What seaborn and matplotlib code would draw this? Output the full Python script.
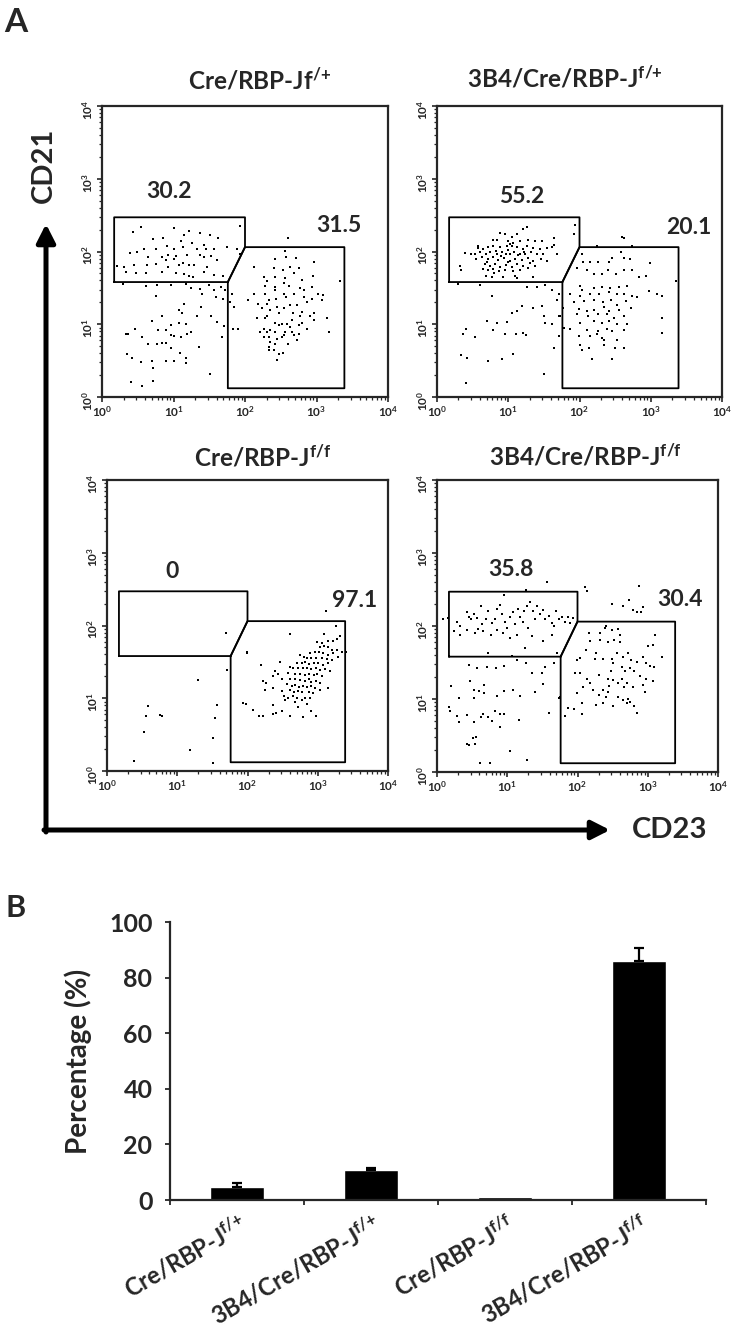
import numpy as np
import pandas as pd
import matplotlib
matplotlib.use("Agg")
import matplotlib.pyplot as plt
import matplotlib.transforms as mtransforms
from matplotlib.ticker import FixedLocator, FixedFormatter, LogLocator, NullFormatter
import seaborn as sns

# ---------------- data ----------------
panel_titles = ["Cre/RBP-Jf$^{/{+}}$", "3B4/Cre/RBP-J$^{f/{+}}$",
                "Cre/RBP-J$^{f/f}$", "3B4/Cre/RBP-J$^{f/f}$"]
gate_left_pct = ["30.2", "55.2", "0", "35.8"]
gate_right_pct = ["31.5", "20.1", "97.1", "30.4"]

# gate outlines in log10 units (CD23, CD21)
gate_left_cd23 = [0.17, 0.17, 2.0, 2.0, 1.76, 0.17]
gate_left_cd21 = [1.58, 2.47, 2.47, 2.06, 1.58, 1.58]
gate_right_cd23 = [1.76, 2.0, 3.39, 3.39, 1.76, 1.76]
gate_right_cd21 = [1.58, 2.06, 2.06, 0.12, 0.12, 1.58]

# events, log10 (CD23, CD21)
tl_events = [
    (0.44, 2.27), (0.55, 2.33), (1.00, 2.32), (1.21, 2.28), (1.37, 2.26), (1.51, 2.22), (1.62, 2.19),
    (1.93, 2.35), (0.71, 2.17), (0.86, 2.19), (1.14, 2.22), (1.10, 2.15), (1.26, 2.11), (1.43, 2.09),
    (0.59, 2.04), (0.75, 2.04), (0.91, 2.07), (1.01, 2.03), (1.13, 2.06), (1.33, 2.04), (1.45, 2.03),
    (1.56, 2.04), (1.75, 2.06), (0.39, 1.98), (0.49, 1.99), (0.64, 1.93), (0.84, 1.93), (0.93, 1.95),
    (1.03, 1.94), (1.19, 1.95), (1.37, 1.95), (1.42, 1.93), (1.52, 1.94), (1.89, 2.03), (0.21, 1.80),
    (0.31, 1.79), (0.45, 1.81), (0.63, 1.81), (0.76, 1.83), (0.90, 1.88), (1.00, 1.90), (1.13, 1.84),
    (1.21, 1.81), (1.28, 1.81), (1.47, 1.79), (1.61, 1.88), (1.93, 1.97), (0.34, 1.72), (0.47, 1.70),
    (0.62, 1.70), (0.84, 1.72), (1.03, 1.70), (1.14, 1.69), (1.21, 1.66), (1.27, 1.65), (1.43, 1.72),
    (1.56, 1.68), (1.69, 1.67), (0.93, 1.79), (1.07, 1.81),
    (0.30, 1.55), (0.61, 1.52), (0.77, 1.54), (0.97, 1.54), (1.17, 1.56), (1.24, 1.50), (1.37, 1.49),
    (1.49, 1.54), (1.56, 1.47), (1.66, 1.51), (1.72, 1.47), (1.40, 1.42), (1.59, 1.38), (1.69, 1.35),
    (1.82, 1.42), (0.75, 1.39), (1.38, 1.24), (1.14, 1.28), (1.07, 1.19), (1.12, 1.15), (1.33, 1.12),
    (0.70, 1.05), (0.84, 1.11), (0.96, 0.99), (1.07, 1.02), (1.17, 1.00), (1.52, 1.11), (1.61, 1.03),
    (1.71, 0.97), (0.36, 0.87), (0.46, 0.94), (0.78, 0.92), (0.90, 0.92), (0.96, 0.85), (1.00, 0.84),
    (1.10, 0.83), (1.19, 0.87), (1.24, 0.89), (1.35, 0.69), (0.56, 0.82), (0.77, 0.73), (0.84, 0.74),
    (0.90, 0.74), (0.64, 0.73), (0.97, 0.67), (1.09, 0.60), (0.35, 0.59), (0.42, 0.53), (0.54, 0.48),
    (0.70, 0.50), (0.89, 0.50), (1.01, 0.50), (1.17, 0.53), (1.18, 0.47), (0.71, 0.40), (1.51, 0.32),
    (0.41, 0.20), (0.56, 0.15), (0.71, 0.22), (0.33, 0.87), (1.68, 0.83),
    (2.42, 1.90), (2.58, 1.93), (2.72, 1.91), (2.56, 2.01), (2.96, 1.85), (2.12, 1.79), (2.41, 1.78),
    (2.53, 1.75), (2.63, 1.79), (2.76, 1.77), (2.68, 1.70), (2.26, 1.65), (2.42, 1.65), (2.56, 1.64),
    (2.95, 1.66), (2.31, 1.59), (2.54, 1.57), (2.80, 1.61), (2.28, 1.52), (2.42, 1.51), (2.62, 1.52),
    (2.77, 1.50), (2.94, 1.51), (3.33, 1.59), (2.12, 1.42), (2.28, 1.42), (2.42, 1.47), (2.54, 1.42),
    (2.68, 1.42), (2.82, 1.47), (3.02, 1.42), (3.09, 1.40), (2.04, 1.33), (2.34, 1.33), (2.44, 1.35),
    (2.58, 1.38), (2.82, 1.38), (2.94, 1.35), (3.08, 1.33), (2.18, 1.28), (2.31, 1.28), (2.45, 1.24),
    (2.63, 1.26), (2.73, 1.26), (2.87, 1.31), (2.24, 1.22), (2.35, 1.19), (2.54, 1.22), (2.80, 1.17),
    (2.91, 1.12), (2.31, 1.12), (2.48, 1.15), (2.67, 1.15), (2.77, 1.11), (2.96, 1.15), (2.17, 1.08),
    (2.28, 1.08), (2.42, 1.02), (2.52, 1.00), (2.66, 1.06), (2.80, 1.02), (2.96, 1.06), (3.15, 1.08),
    (2.26, 0.94), (2.35, 0.92), (2.47, 0.99), (2.59, 1.01), (2.63, 0.96), (2.75, 0.99), (2.87, 0.94),
    (2.21, 0.89), (2.31, 0.89), (2.42, 0.89), (2.56, 0.89), (2.66, 0.89), (2.76, 0.87), (3.17, 0.89),
    (2.26, 0.83), (2.34, 0.82), (2.45, 0.80), (2.54, 0.85), (2.68, 0.85), (2.35, 0.76), (2.42, 0.73),
    (2.52, 0.83), (2.60, 0.73), (2.73, 0.78), (2.33, 0.69), (2.34, 0.64), (2.40, 0.65), (2.48, 0.59),
    (2.53, 0.60), (2.45, 0.51), (1.83, 0.94), (1.90, 0.94), (1.84, 1.24), (1.79, 1.31), (2.60, 2.19),
]

tr_events = [
    (1.26, 2.34), (1.21, 2.31), (1.12, 2.24), (0.88, 2.26), (0.95, 2.24), (1.05, 2.20), (0.79, 2.16),
    (0.84, 2.16), (1.00, 2.14), (1.07, 2.11), (1.17, 2.14), (1.28, 2.16), (1.38, 2.15), (1.47, 2.15),
    (1.64, 2.19), (1.93, 2.36), (1.92, 2.24), (0.58, 2.05), (0.65, 2.03), (0.72, 2.06), (0.79, 2.07),
    (0.88, 2.06), (0.98, 2.08), (1.05, 2.07), (1.12, 2.06), (1.20, 2.03), (1.26, 2.08), (1.35, 2.05),
    (1.45, 2.03), (1.54, 2.05), (1.61, 2.06), (0.39, 1.98), (0.53, 1.97), (0.60, 1.99), (0.69, 1.97),
    (0.75, 1.99), (0.84, 1.97), (0.91, 2.00), (0.97, 1.97), (1.02, 1.96), (1.08, 1.99), (1.16, 1.97),
    (1.24, 1.96), (1.32, 1.99), (1.40, 1.97), (1.49, 1.96), (1.68, 1.97), (0.63, 1.92), (0.71, 1.90),
    (0.78, 1.92), (0.86, 1.88), (0.94, 1.91), (1.02, 1.87), (1.10, 1.90), (1.19, 1.88), (1.28, 1.91),
    (1.35, 1.87), (1.46, 1.90), (1.54, 1.87), (0.67, 1.83), (0.74, 1.80), (0.81, 1.83), (0.88, 1.79),
    (0.97, 1.82), (1.05, 1.79), (1.12, 1.83), (1.20, 1.80), (1.28, 1.78), (1.38, 1.80), (0.64, 1.76),
    (0.72, 1.74), (0.79, 1.76), (0.87, 1.73), (0.95, 1.74), (1.07, 1.73), (1.17, 1.74), (0.32, 1.80),
    (0.34, 1.74), (0.69, 1.67), (0.77, 1.65), (0.93, 1.65), (1.10, 1.67), (1.12, 1.64), (1.35, 1.65),
    (0.58, 2.08), (0.48, 1.97), (1.64, 2.09), (0.99, 2.02), (1.03, 2.10), (0.90, 1.94), (1.14, 1.95),
    (0.83, 2.01), (0.70, 1.86), (1.00, 1.85), (0.55, 1.90), (1.30, 1.84), (0.80, 1.70), (1.22, 2.00),
    (0.30, 1.55), (0.77, 1.39), (0.60, 1.54), (1.40, 1.51), (1.52, 1.54), (1.26, 1.51), (1.61, 1.47),
    (1.71, 1.41), (1.68, 1.33), (1.19, 1.25), (1.12, 1.18), (1.35, 1.23), (1.47, 1.25), (1.05, 1.16),
    (1.50, 1.11), (1.71, 1.11), (1.61, 1.01), (1.52, 1.02), (0.70, 1.04), (0.84, 1.02), (0.98, 1.03),
    (0.41, 0.94), (0.37, 0.87), (0.53, 0.82), (0.79, 0.92), (0.96, 0.86), (1.11, 0.87), (1.21, 0.88),
    (1.25, 0.85), (1.71, 0.84), (1.64, 0.68), (0.34, 0.58), (0.42, 0.53), (0.71, 0.49), (0.91, 0.52),
    (1.07, 0.59), (1.50, 0.31), (0.41, 0.19),
    (2.60, 2.20), (2.62, 2.19), (2.74, 2.07), (2.58, 2.00), (2.25, 2.08), (2.04, 1.97), (2.05, 1.85),
    (2.15, 1.85), (2.26, 1.85), (2.41, 1.86), (2.46, 1.91), (2.62, 1.91), (2.71, 1.90), (2.99, 1.84),
    (1.96, 1.78), (2.11, 1.74), (2.20, 1.69), (2.32, 1.69), (2.40, 1.74), (2.51, 1.69), (2.62, 1.74),
    (2.74, 1.74), (2.83, 1.65), (2.94, 1.67), (3.35, 1.59), (2.00, 1.53), (2.04, 1.47), (2.20, 1.50),
    (2.32, 1.51), (2.43, 1.50), (2.55, 1.51), (2.67, 1.53), (1.87, 1.41), (2.01, 1.39), (2.15, 1.41),
    (2.27, 1.42), (2.41, 1.44), (2.52, 1.42), (2.62, 1.41), (2.73, 1.39), (2.81, 1.38), (2.98, 1.46),
    (3.09, 1.42), (3.16, 1.39), (1.92, 1.30), (2.06, 1.32), (2.20, 1.34), (2.33, 1.30), (2.44, 1.33),
    (2.53, 1.27), (2.65, 1.32), (2.72, 1.23), (1.99, 1.21), (2.11, 1.18), (2.21, 1.19), (2.34, 1.24),
    (2.41, 1.18), (2.55, 1.19), (1.96, 1.14), (2.12, 1.11), (2.26, 1.14), (2.38, 1.14), (2.48, 1.09),
    (2.62, 1.11), (2.01, 1.02), (2.20, 1.04), (2.32, 1.02), (2.41, 1.04), (2.53, 1.01), (2.67, 1.01),
    (3.16, 1.09), (1.87, 0.93), (2.10, 0.92), (2.26, 0.91), (2.39, 0.93), (2.46, 0.91), (2.62, 0.92),
    (1.99, 0.84), (2.15, 0.84), (2.25, 0.87), (2.32, 0.81), (2.53, 0.78), (3.16, 0.88), (2.01, 0.72),
    (2.04, 0.65), (2.13, 0.68), (2.34, 0.79), (2.34, 0.72), (2.50, 0.68), (2.62, 0.68), (2.18, 0.52),
    (2.46, 0.52), (1.77, 1.23), (1.78, 0.95), (1.73, 1.11),
]

bl_events = [
    (1.70, 1.90), (3.12, 2.20), (1.99, 1.62), (1.71, 1.39), (1.30, 1.25), (0.58, 0.90), (0.55, 0.76),
    (0.76, 0.77), (0.79, 0.76), (1.57, 0.91), (1.54, 0.73), (0.53, 0.53), (1.51, 0.45), (1.18, 0.29),
    (0.39, 0.14), (1.51, 0.11),
    (3.26, 1.99), (2.60, 1.89), (3.09, 1.88), (2.99, 1.78), (3.06, 1.76), (3.14, 1.79), (3.21, 1.79),
    (3.28, 1.82), (3.32, 1.85), (3.03, 1.71), (3.09, 1.72), (3.15, 1.70), (3.20, 1.67), (3.27, 1.67),
    (3.34, 1.64), (3.40, 1.63), (1.99, 1.63), (2.96, 1.64), (3.02, 1.63), (3.08, 1.62), (3.14, 1.59),
    (3.22, 1.62), (3.29, 1.57), (2.89, 1.62), (2.75, 1.59), (2.80, 1.57), (2.84, 1.55), (2.91, 1.56),
    (2.98, 1.55), (3.06, 1.55), (3.13, 1.54), (3.20, 1.53), (2.46, 1.50), (2.70, 1.49), (2.77, 1.48),
    (2.82, 1.50), (2.87, 1.47), (2.94, 1.49), (3.01, 1.48), (3.08, 1.46), (3.15, 1.48), (2.19, 1.46),
    (2.60, 1.43), (2.65, 1.41), (2.72, 1.42), (2.79, 1.41), (2.84, 1.42), (2.91, 1.40), (2.97, 1.41),
    (3.03, 1.39), (3.10, 1.40), (3.17, 1.37), (2.39, 1.37), (2.44, 1.34), (2.58, 1.35), (2.68, 1.34),
    (2.75, 1.33), (2.82, 1.32), (2.87, 1.34), (2.94, 1.32), (2.99, 1.33), (3.06, 1.31), (2.37, 1.30),
    (2.49, 1.27), (2.60, 1.27), (2.68, 1.26), (2.75, 1.25), (2.82, 1.24), (2.87, 1.26), (2.91, 1.23),
    (2.98, 1.24), (3.03, 1.21), (2.22, 1.24), (2.27, 1.21), (2.56, 1.20), (2.63, 1.17), (2.68, 1.18),
    (2.74, 1.16), (2.79, 1.17), (2.84, 1.15), (2.90, 1.17), (2.96, 1.14), (3.03, 1.12), (2.25, 1.11),
    (2.37, 1.14), (2.49, 1.10), (2.60, 1.11), (2.66, 1.09), (2.72, 1.10), (2.78, 1.08), (2.87, 1.09),
    (2.93, 1.07), (2.52, 1.03), (2.58, 1.01), (2.65, 1.03), (2.71, 1.01), (2.82, 1.00), (2.89, 1.01),
    (2.53, 0.97), (2.68, 0.95), (2.77, 0.97), (2.84, 0.92), (2.72, 0.88), (2.37, 0.91), (1.93, 0.93),
    (1.98, 0.92), (2.08, 0.84), (2.17, 0.76), (2.22, 0.76), (2.36, 0.78), (2.41, 0.80), (2.49, 0.82),
    (2.91, 0.82), (2.98, 0.76), (2.79, 0.74), (2.60, 0.75), (3.15, 1.14),
]

br_events = [
    (1.56, 2.60), (0.95, 2.42), (1.27, 2.49), (2.11, 2.53), (2.13, 2.48), (2.88, 2.55),
    (0.09, 2.09), (0.15, 2.11), (0.28, 2.06), (0.33, 2.00), (0.42, 2.19), (0.45, 2.12), (0.48, 2.09),
    (0.52, 2.16), (0.57, 2.11), (0.62, 2.27), (0.64, 2.03), (0.70, 2.10), (0.73, 2.20), (0.78, 2.04),
    (0.83, 2.10), (0.86, 2.23), (0.90, 2.29), (0.92, 2.16), (0.97, 2.06), (0.99, 1.97), (1.04, 2.13),
    (1.08, 2.19), (1.11, 2.03), (1.16, 2.23), (1.18, 2.13), (1.22, 2.06), (1.24, 2.20), (1.28, 2.27),
    (1.30, 1.97), (1.33, 2.33), (1.37, 2.20), (1.40, 2.09), (1.43, 2.27), (1.47, 2.16), (1.51, 2.22),
    (1.54, 2.09), (1.60, 2.14), (1.63, 2.04), (1.67, 2.00), (1.70, 2.20), (1.74, 2.10), (1.78, 2.13),
    (1.82, 2.06), (1.86, 2.13), (1.89, 2.04), (1.94, 2.11), (0.24, 1.93), (0.33, 1.87), (0.43, 1.95),
    (0.54, 1.90), (0.59, 1.96), (0.66, 1.93), (0.77, 1.87), (0.85, 1.95), (0.94, 1.90), (1.04, 1.83),
    (1.14, 1.88), (1.25, 1.70), (1.35, 1.86), (1.51, 1.80), (1.63, 1.88), (1.71, 1.63), (0.73, 1.63),
    (1.07, 1.59),
    (0.45, 1.47), (0.57, 1.42), (0.71, 1.44), (0.84, 1.42), (0.95, 1.45), (1.14, 1.54), (1.27, 1.49),
    (1.35, 1.35), (1.49, 1.36), (1.54, 1.44), (1.66, 1.50), (0.20, 1.18), (0.47, 1.24), (0.53, 1.13),
    (0.60, 1.11), (0.67, 1.19), (0.67, 1.08), (0.86, 1.04), (0.96, 1.11), (1.08, 1.13), (1.18, 1.04),
    (1.40, 1.10), (1.51, 1.21), (0.31, 1.01), (0.52, 1.01), (0.17, 0.89), (0.18, 0.83), (0.28, 0.77),
    (0.31, 0.69), (0.42, 0.78), (0.52, 0.69), (0.62, 0.75), (0.66, 0.79), (0.73, 0.76), (0.78, 0.70),
    (0.83, 0.83), (0.89, 0.80), (0.96, 0.80), (0.90, 0.62), (1.17, 0.71), (1.59, 0.81), (0.43, 0.39),
    (0.45, 0.37), (0.51, 0.46), (0.56, 0.48), (0.54, 0.38), (1.04, 0.29), (0.61, 0.12), (0.75, 0.12),
    (1.28, 0.16), (1.74, 1.02),
    (2.17, 1.90), (2.18, 1.79), (2.32, 1.90), (2.39, 1.97), (2.41, 2.00), (2.49, 1.94), (2.58, 1.96),
    (2.60, 1.88), (2.49, 2.30), (2.65, 2.28), (2.74, 2.36), (2.79, 2.22), (2.84, 2.19), (2.90, 2.19),
    (2.93, 2.26), (2.32, 1.81), (2.44, 1.78), (2.52, 1.81), (2.61, 1.78), (2.27, 1.63), (2.25, 1.55),
    (2.04, 1.56), (2.12, 1.67), (2.36, 1.55), (2.49, 1.55), (2.56, 1.63), (2.65, 1.57), (2.72, 1.63),
    (2.76, 1.54), (2.84, 1.51), (2.93, 1.58), (2.98, 1.49), (3.03, 1.45), (3.09, 1.44), (3.20, 1.57),
    (3.01, 1.72), (3.08, 1.74), (3.11, 1.88), (1.99, 1.54), (2.04, 1.35), (2.13, 1.28), (2.18, 1.22),
    (2.30, 1.33), (2.44, 1.27), (2.47, 1.39), (2.51, 1.49), (2.63, 1.44), (2.67, 1.38), (2.75, 1.42),
    (2.81, 1.39), (2.89, 1.31), (2.98, 1.27), (3.08, 1.24), (1.96, 1.35), (2.08, 1.17), (2.22, 1.13),
    (2.36, 1.13), (2.45, 1.18), (2.51, 1.26), (2.57, 1.22), (2.63, 1.28), (2.66, 1.17), (2.70, 1.22),
    (2.79, 1.17), (2.93, 1.19), (2.96, 1.10), (1.99, 1.08), (2.31, 1.06), (2.41, 1.03), (2.44, 1.10),
    (2.58, 1.03), (2.65, 0.99), (2.72, 1.00), (2.75, 0.96), (2.27, 0.92), (2.36, 0.94), (2.51, 0.90),
    (2.70, 0.95), (2.80, 0.90), (1.82, 0.77), (1.87, 0.87), (1.95, 0.86), (2.06, 0.80), (2.85, 0.81),
    (2.06, 0.94), (1.75, 1.03),
]

bar_groups = ["Cre/RBP-J$^{f/{+}}$", "3B4/Cre/RBP-J$^{f/{+}}$",
              "Cre/RBP-J$^{f/f}$", "3B4/Cre/RBP-J$^{f/f}$"]
bar_pct = [4.6, 10.9, 1.0, 86.0]
bar_err = [1.6, 0.6, 0.0, 4.5]

# ---------------- style ----------------
sns.set_style("ticks")
plt.rcParams["font.family"] = ["Lato", "DejaVu Sans"]
plt.rcParams["font.weight"] = "bold"
plt.rcParams["axes.labelweight"] = "bold"
plt.rcParams["mathtext.default"] = "regular"

W, H = 739, 1328
fig = plt.figure(figsize=(W / 100, H / 100), dpi=100)


def box(x0, y0, x1, y1):
    # pixel box (top-left origin) -> figure fraction
    return [x0 / W, 1 - y1 / H, (x1 - x0) / W, (y1 - y0) / H]


# ---------------- panel A: dot plots ----------------
frames = []
for key, ev in zip(["tl", "tr", "bl", "br"], [tl_events, tr_events, bl_events, br_events]):
    arr = np.array(ev)
    frames.append(pd.DataFrame({"CD23": 10 ** arr[:, 0], "CD21": 10 ** arr[:, 1], "panel": key}))
events = pd.concat(frames, ignore_index=True)

flow_boxes = [box(102, 106, 388, 397), box(437, 106, 722, 397),
              box(107, 480, 388, 771), box(437, 480, 718, 772)]
title_xy = [(0.55, 1.058), (0.45, 1.062), (0.555, 1.048), (0.527, 1.048)]
left_lab_pos = [(0.93, 2.82), (1.19, 2.75), (0.93, 2.74), (1.05, 2.78)]
right_lab_pos = [(3.31, 2.36), (3.54, 2.33), (3.53, 2.35), (3.46, 2.36)]
decades = [1, 10, 100, 1000, 10000]
decade_labels = ["$10^{0}$", "$10^{1}$", "$10^{2}$", "$10^{3}$", "$10^{4}$"]

for i, key in enumerate(["tl", "tr", "bl", "br"]):
    ax = fig.add_axes(flow_boxes[i])
    sns.scatterplot(data=events[events.panel == key], x="CD23", y="CD21", ax=ax,
                    color="black", marker="s", s=4, linewidth=0, legend=False)
    ax.set(xscale="log", yscale="log", xlim=(1, 1e4), ylim=(1, 1e4), xlabel="", ylabel="")
    ax.plot(10 ** np.array(gate_left_cd23), 10 ** np.array(gate_left_cd21), color="black", lw=1.3)
    ax.plot(10 ** np.array(gate_right_cd23), 10 ** np.array(gate_right_cd21), color="black", lw=1.3)
    for axis in (ax.xaxis, ax.yaxis):
        axis.set_major_locator(FixedLocator(decades))
        axis.set_major_formatter(FixedFormatter(decade_labels))
        axis.set_minor_locator(LogLocator(base=10, subs=np.arange(2, 10)))
        axis.set_minor_formatter(NullFormatter())
    ax.tick_params(which="major", length=3.5, width=1.2, direction="out", labelsize=8.5, pad=1.5)
    ax.tick_params(which="minor", length=2, width=0.9, direction="out")
    ax.tick_params(axis="y", labelrotation=90)
    for sp in ax.spines.values():
        sp.set_linewidth(1.6)
    ax.text(title_xy[i][0], title_xy[i][1], panel_titles[i], transform=ax.transAxes,
            ha="center", va="baseline", fontsize=17.5)
    lx, ly = left_lab_pos[i]
    rx, ry = right_lab_pos[i]
    ax.text(10 ** lx, 10 ** ly, gate_left_pct[i], ha="center", va="center", fontsize=16.5)
    ax.text(10 ** rx, 10 ** ry, gate_right_pct[i], ha="center", va="center", fontsize=16.5)

# ---------------- panel B: bar chart ----------------
bar_df = pd.DataFrame({"group": bar_groups, "pct": bar_pct, "err": bar_err})
axb = fig.add_axes(box(170, 922, 706, 1200))
sns.barplot(data=bar_df, x="group", y="pct", color="black", saturation=1,
            width=0.41, errorbar=None, ax=axb)
has_err = bar_df[bar_df["err"] > 0]
axb.errorbar(x=has_err.index, y=has_err["pct"], yerr=[np.zeros(len(has_err)), has_err["err"]],
             fmt="none", ecolor="black", elinewidth=1.6, capsize=3.6, capthick=1.6)
axb.set_xlim(-0.5, 3.5)
axb.set_ylim(0, 100)
axb.set_yticks(range(0, 101, 20))
axb.set_xlabel("")
axb.set_ylabel("Percentage (%)", fontsize=20)
axb.yaxis.set_label_coords(-0.146, 0.5)
axb.set_xticks(np.arange(-0.5, 4, 1), minor=True)
sns.despine(ax=axb)
for sp in axb.spines.values():
    sp.set_linewidth(1.6)
axb.tick_params(axis="y", length=3.6, width=1.3, labelsize=18, pad=9)
axb.tick_params(axis="x", which="major", length=0, labelsize=17, pad=8)
axb.tick_params(axis="x", which="minor", length=3.6, width=1.3)
shift = mtransforms.ScaledTranslation(0.14, 0, fig.dpi_scale_trans)
for lab in axb.get_xticklabels():
    lab.set_rotation(30)
    lab.set_ha("right")
    lab.set_transform(lab.get_transform() + shift)

# ---------------- overlay: letters and axis arrows ----------------
ov = fig.add_axes([0, 0, 1, 1], zorder=-1)
ov.set_xlim(0, W)
ov.set_ylim(H, 0)
ov.axis("off")
arrow_kw = dict(arrowstyle="-|>,head_length=0.55,head_width=0.28", lw=3.6, color="black",
                shrinkA=0, shrinkB=0, mutation_scale=20)
ov.annotate("", xy=(46, 224), xytext=(46, 832), arrowprops=arrow_kw)
ov.annotate("", xy=(610, 830), xytext=(44, 830), arrowprops=arrow_kw)
ov.text(44, 165, "CD21", rotation=90, ha="center", va="center", fontsize=21)
ov.text(670, 830, "CD23", ha="center", va="center", fontsize=21)
ov.text(4, 32, "A", ha="left", va="baseline", fontsize=24)
ov.text(6, 917, "B", ha="left", va="baseline", fontsize=22)

fig.savefig("out.png", dpi=100)
